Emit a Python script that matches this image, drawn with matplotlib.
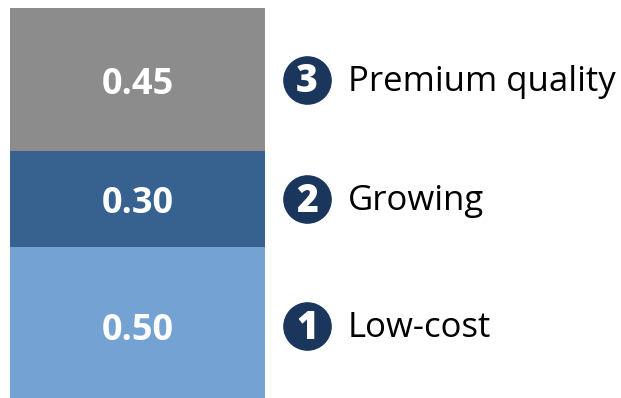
import matplotlib
matplotlib.use("Agg")
import matplotlib.pyplot as plt
import matplotlib.transforms as mtransforms

plt.rcParams['font.family'] = ['Open Sans', 'DejaVu Sans']

# data (bottom to top)
segments = ["Low-cost", "Growing", "Premium quality"]
values = [0.50, 0.30, 0.45]
numbers = ["1", "2", "3"]
colors = ["#74A3D3", "#37618F", "#8C8C8C"]
navy = "#1B365D"

W, H = 621, 398
fig = plt.figure(figsize=(W / 100, H / 100), dpi=100)
# bar runs off the bottom of the canvas, like the original
ax = fig.add_axes([10 / W, -8 / H, 255 / W, 398 / H])

trans = mtransforms.blended_transform_factory(ax.transAxes, ax.transData)
down = mtransforms.offset_copy(ax.transData, fig=fig, y=-5, units="dots")
down_leg = mtransforms.offset_copy(trans, fig=fig, y=-2, units="dots")

bottom = 0
for name, v, num, c in zip(segments, values, numbers, colors):
    ax.bar(0, v, bottom=bottom, width=1.0, color=c, edgecolor="none")
    mid = bottom + v / 2
    ax.text(0, mid, f"{v:.2f}", ha="center", va="center", color="white",
            fontsize=26, fontweight="bold", transform=down)
    # legend item beside the segment
    ax.plot([1.165], [mid], marker="o", markersize=34, color=navy,
            transform=trans, clip_on=False)
    ax.text(1.165, mid, num, ha="center", va="center", color="white",
            fontsize=27, fontweight="heavy", transform=down_leg, clip_on=False)
    ax.text(1.325, mid, name, ha="left", va="center", color="black",
            fontsize=25, transform=down_leg, clip_on=False)
    bottom += v

ax.set_xlim(-0.5, 0.5)
ax.set_ylim(0, 1.25)
ax.axis("off")

fig.savefig("out.png", dpi=100)
